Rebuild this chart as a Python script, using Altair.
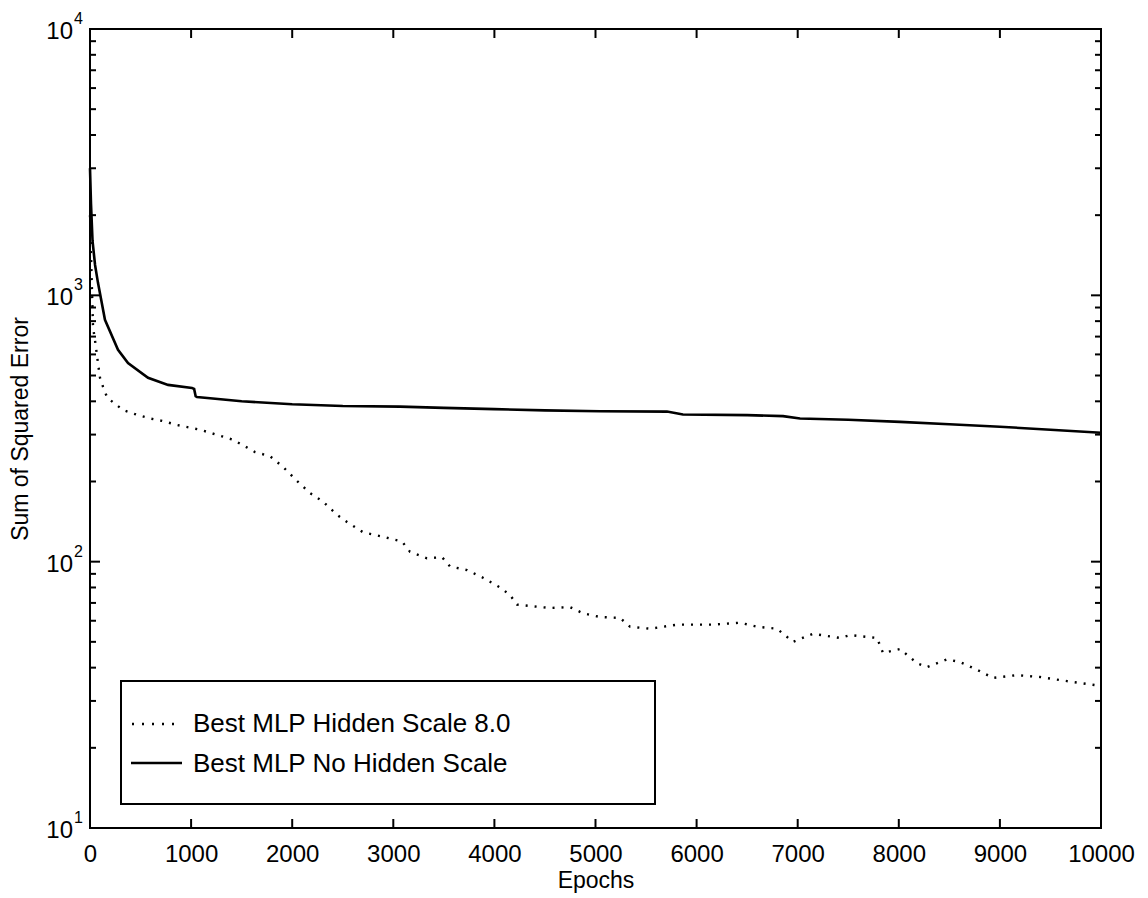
import altair as alt
import pandas as pd

# ---- data ----
# Best MLP No Hidden Scale (solid)
solid_epochs = [0, 10, 25, 50, 79, 148, 277, 376, 574, 772, 1009, 1030, 1045, 1058, 1500, 2000,
                2500, 3066, 3500, 4000, 4500, 5045, 5707, 5865, 6500, 6855, 7023, 7500, 8012,
                8500, 9000, 9500, 10000]
solid_sse = [3000, 2200, 1600, 1300, 1114, 809, 624, 557, 490, 461, 449, 445, 418, 415, 400, 390,
             384, 382, 378, 374, 370, 367, 366, 357, 355, 352, 345, 341, 335,
             328, 321, 313, 305]

# Best MLP Hidden Scale 8.0 (dotted)
dot_epochs = [0, 15, 30, 49, 79, 99, 129, 168, 198, 326, 475, 593, 712, 860, 1088, 1414, 1563,
              1632, 1780, 1909, 2047, 2176, 2305, 2443, 2542, 2700, 2898, 3086, 3165, 3333,
              3482, 3561, 3729, 3887, 4055, 4154, 4224, 4382, 4550, 4748, 4876, 5045, 5242,
              5341, 5539, 5806, 6004, 6162, 6429, 6597, 6795, 6954, 7151, 7418, 7517, 7785,
              7844, 8012, 8180, 8279, 8477, 8605, 8773, 8932, 9169, 9397, 9664, 9941, 10000]
dot_sse = [2000, 1200, 760, 680, 557, 490, 453, 415, 405, 371, 355, 345, 338, 326, 313, 287, 267,
           258, 249, 227, 201, 181, 168, 150, 141, 129, 124, 119, 109, 103,
           104, 96, 93, 87, 80, 75, 69, 68, 67, 67.5, 64, 62, 61.5,
           57, 56, 58, 58, 58, 59, 57, 56, 50, 53.6, 51.7, 53, 51.7,
           45.4, 47, 41.6, 40.2, 43, 42, 39.3, 36.6, 37.5, 36.9, 35.6, 34.4, 34]

x_ticks = [0, 1000, 2000, 3000, 4000, 5000, 6000, 7000, 8000, 9000, 10000]
y_major = [10, 100, 1000, 10000]
y_exponents = ["1", "2", "3", "4"]
y_minor = [k * m for m in (10, 100, 1000) for k in range(2, 10)]

legend_labels = ["Best MLP Hidden Scale 8.0", "Best MLP No Hidden Scale"]

W, H = 1011, 799
FONT = "Liberation Sans"

solid_df = pd.DataFrame({"epoch": solid_epochs, "sse": solid_sse})
dot_df = pd.DataFrame({"epoch": dot_epochs, "sse": dot_sse})
xt_df = pd.DataFrame({"epoch": x_ticks})
ymaj_df = pd.DataFrame({"sse": y_major, "base": ["10"] * 4, "exp": y_exponents})
ymin_df = pd.DataFrame({"sse": y_minor})

xs = alt.Scale(domain=[0, 10000], nice=False, zero=False)
ys = alt.Scale(type="log", domain=[10, 10000], nice=False)

x_axis = alt.Axis(values=x_ticks, format="d", ticks=False, domain=False, grid=False,
                  labelFont=FONT, labelFontSize=24, labelColor="black",
                  labelPadding=14, labelFlush=False,
                  title="Epochs", titleFont=FONT, titleFontSize=23,
                  titleFontWeight="normal", titleColor="black",
                  titleY=52, titleBaseline="middle")
y_axis = alt.Axis(labels=False, ticks=False, domain=False, grid=False,
                  title="Sum of Squared Error", titleFont=FONT, titleFontSize=23,
                  titleFontWeight="normal", titleColor="black",
                  titleX=-70, titleY=H / 2, titleAngle=270,
                  titleAlign="center", titleBaseline="middle")

X = lambda: alt.X("epoch:Q", scale=xs, axis=x_axis, title="Epochs")
Y = lambda: alt.Y("sse:Q", scale=ys, axis=y_axis, title="Sum of Squared Error")

solid = alt.Chart(solid_df).mark_line(color="black", strokeWidth=2.6).encode(x=X(), y=Y())
dotted = alt.Chart(dot_df).mark_line(color="black", strokeWidth=2.4, strokeDash=[2, 7]).encode(
    x=X(), y=Y())

# inward ticks (MATLAB style) on all four sides
xt_bottom = alt.Chart(xt_df).mark_rule(color="black", strokeWidth=2).encode(
    x=X(), y=alt.value(H), y2=alt.value(H - 9))
xt_top = alt.Chart(xt_df).mark_rule(color="black", strokeWidth=2).encode(
    x=X(), y=alt.value(0), y2=alt.value(9))
ymaj_l = alt.Chart(ymaj_df).mark_rule(color="black", strokeWidth=2).encode(
    y=Y(), x=alt.value(0), x2=alt.value(10))
ymaj_r = alt.Chart(ymaj_df).mark_rule(color="black", strokeWidth=2).encode(
    y=Y(), x=alt.value(W), x2=alt.value(W - 10))
ymin_l = alt.Chart(ymin_df).mark_rule(color="black", strokeWidth=2).encode(
    y=Y(), x=alt.value(0), x2=alt.value(6))
ymin_r = alt.Chart(ymin_df).mark_rule(color="black", strokeWidth=2).encode(
    y=Y(), x=alt.value(W), x2=alt.value(W - 6))

# y tick labels 10^n
ylab_base = alt.Chart(ymaj_df).mark_text(font=FONT, fontSize=24, color="black", align="right",
                                         baseline="middle", dy=3).encode(
    y=Y(), x=alt.value(-17), text="base:N")
ylab_exp = alt.Chart(ymaj_df).mark_text(font=FONT, fontSize=16, color="black", align="left",
                                        baseline="middle", dy=-10).encode(
    y=Y(), x=alt.value(-16), text="exp:N")

# legend box
one = pd.DataFrame({"a": [0]})
leg_box = alt.Chart(one).mark_rect(
    fill="white", stroke="black", strokeWidth=2).encode(
    x=alt.value(31), x2=alt.value(565), y=alt.value(652), y2=alt.value(775))
leg_l1 = alt.Chart(one).mark_rule(
    color="black", strokeWidth=2.4, strokeDash=[2, 8]).encode(
    x=alt.value(42), x2=alt.value(85), y=alt.value(695))
leg_l2 = alt.Chart(one).mark_rule(
    color="black", strokeWidth=2.6).encode(
    x=alt.value(41), x2=alt.value(92), y=alt.value(734))
leg_t1 = alt.Chart(pd.DataFrame({"t": [legend_labels[0]]})).mark_text(
    font=FONT, fontSize=26, color="black", align="left", baseline="middle").encode(
    x=alt.value(103), y=alt.value(695), text="t:N")
leg_t2 = alt.Chart(pd.DataFrame({"t": [legend_labels[1]]})).mark_text(
    font=FONT, fontSize=26, color="black", align="left", baseline="middle").encode(
    x=alt.value(103), y=alt.value(735), text="t:N")

chart = alt.layer(
    solid, dotted, xt_bottom, xt_top, ymaj_l, ymaj_r, ymin_l, ymin_r,
    ylab_base, ylab_exp, leg_box, leg_l1, leg_l2, leg_t1, leg_t2
).properties(
    width=W, height=H,
    autosize=alt.AutoSizeParams(type="none"),
    padding={"left": 90, "top": 29, "right": 47, "bottom": 70},
    background="white",
).configure_view(stroke="black", strokeWidth=2)

chart.save("out.html", embed_options={"renderer": "svg", "actions": False})
